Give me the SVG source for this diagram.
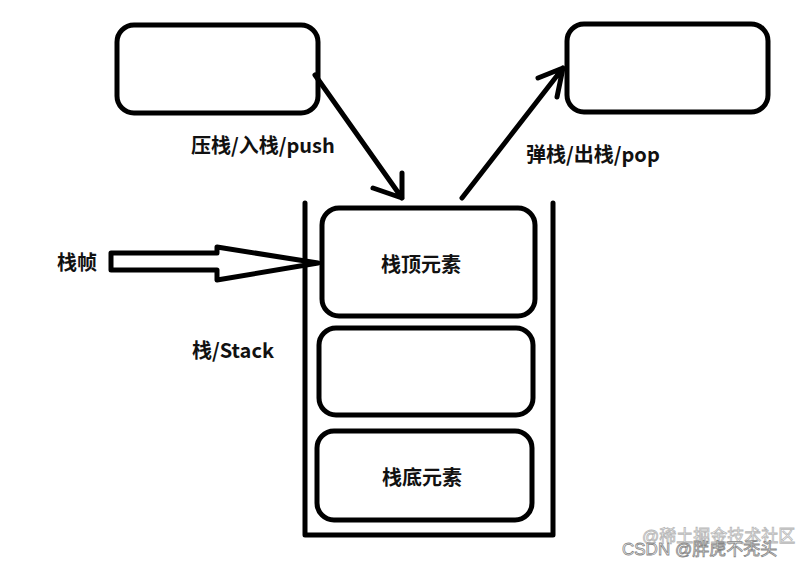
<svg xmlns="http://www.w3.org/2000/svg" width="810" height="567" viewBox="0 0 810 567">
<style>
.box{fill:#fff;stroke:#000;stroke-width:5}
.ln{fill:none;stroke:#000;stroke-width:5;stroke-linecap:round;stroke-linejoin:round}
.t{font-family:"Noto Sans CJK SC","Noto Sans",sans-serif;font-weight:bold;font-size:20px;fill:#111}
.wm{font-family:"Liberation Sans","Noto Sans CJK SC",sans-serif;font-size:17px;fill:#fff;stroke:#888;stroke-width:0.8}
</style>
<rect width="810" height="567" fill="#fff"/>
<g id="stack-container">
<path class="ln" d="M305,203 V535 H553 V203" stroke-linecap="butt"/>
</g>
<g id="node-top-left">
<rect class="box" x="117" y="25" width="201" height="88" rx="17"/>
</g>
<g id="node-top-right">
<rect class="box" x="567" y="24" width="201" height="88" rx="17"/>
</g>
<g id="node-stack-top">
<rect class="box" x="322" y="208" width="213" height="108" rx="17"/>
<text class="t" x="421" y="272" text-anchor="middle">栈顶元素</text>
</g>
<g id="node-stack-mid">
<rect class="box" x="319" y="328" width="214" height="87" rx="17"/>
</g>
<g id="node-stack-bottom">
<rect class="box" x="317" y="431" width="215" height="89" rx="17"/>
<text class="t" x="422" y="485" text-anchor="middle">栈底元素</text>
</g>
<g id="connectors">
<path class="ln" d="M315,75 L402,198 M373,188 L402,198 L402,173"/>
<path class="ln" d="M462,198 L563,68 M538,78 L563,68 L557,97"/>
<path class="ln" stroke-width="4.5" d="M111,253 H217 V247 L318,263 L217,280 V270 H111 Z"/>
</g>
<g id="labels">
<text class="t" x="191" y="153">压栈/入栈/push</text>
<text class="t" x="526" y="162">弹栈/出栈/pop</text>
<text class="t" x="57" y="270">栈帧</text>
<text class="t" x="192" y="358">栈/Stack</text>
</g>
<g id="watermark">
<text class="wm" x="642" y="542" opacity="0.6">@稀土掘金技术社区</text>
<text class="wm" x="622" y="555">CSDN @胖虎不秃头</text>
</g>
</svg>
